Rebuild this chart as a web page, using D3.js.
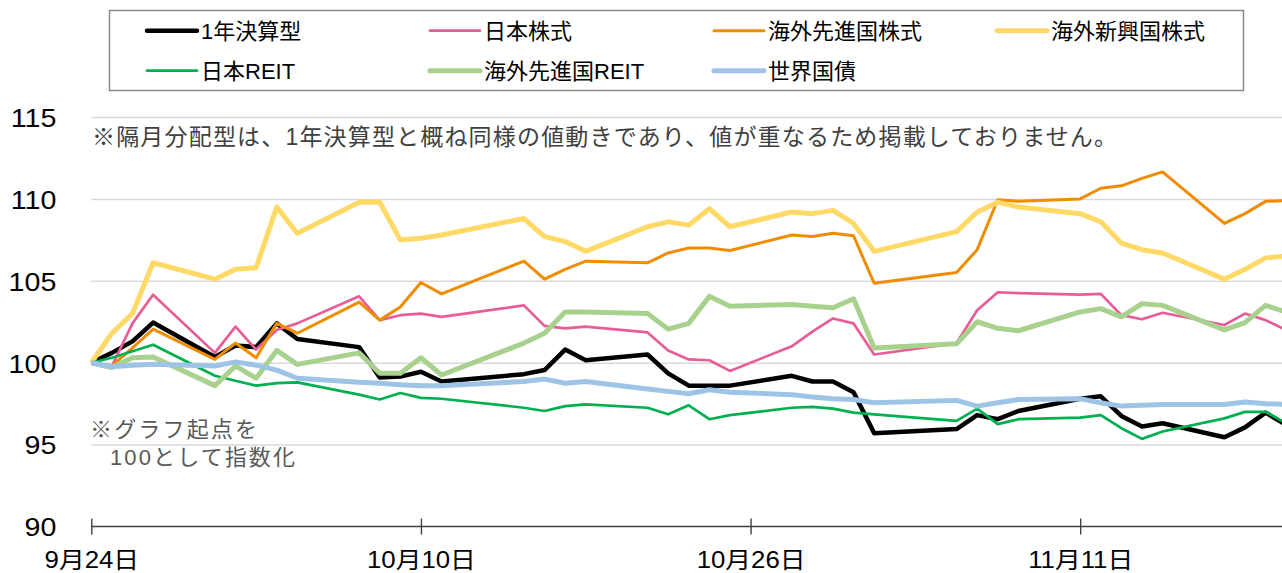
<!DOCTYPE html>
<html>
<head>
<meta charset="utf-8">
<script src="https://cdn.jsdelivr.net/npm/d3@7"></script>
<style>
  html, body { margin: 0; padding: 0; background: #fff; }
  svg { display: block; }
  text { font-family: "Liberation Sans", Arial, "Noto Sans CJK JP", sans-serif; }
</style>
</head>
<body>
<svg id="chart" width="1282" height="573"></svg>
<script>
// ---- data ----
const dates = [
  "2024-09-24","2024-09-25","2024-09-26","2024-09-27","2024-09-30",
  "2024-10-01","2024-10-02","2024-10-03","2024-10-04","2024-10-07",
  "2024-10-08","2024-10-09","2024-10-10","2024-10-11","2024-10-15",
  "2024-10-16","2024-10-17","2024-10-18","2024-10-21","2024-10-22",
  "2024-10-23","2024-10-24","2024-10-25","2024-10-28","2024-10-29",
  "2024-10-30","2024-10-31","2024-11-01","2024-11-05","2024-11-06",
  "2024-11-07","2024-11-08","2024-11-11","2024-11-12","2024-11-13",
  "2024-11-14","2024-11-15","2024-11-18","2024-11-19","2024-11-20",
  "2024-11-21"
];
const seriesNames = ["1年決算型","日本株式","海外先進国株式","海外新興国株式","日本REIT","海外先進国REIT","世界国債"];
const fund1Y = [100,100.6,101.3,102.45,100.35,101.05,100.95,102.4,101.45,100.95,
  99.1,99.15,99.45,98.85,99.3,99.55,100.8,100.15,100.5,99.35,
  98.6,98.6,98.6,99.2,98.85,98.85,98.2,95.7,95.95,96.8,
  96.55,97.05,97.8,97.95,96.75,96.1,96.3,95.45,96.05,96.95,96.2];
const japanEquity = [100,99.8,102.4,104.15,100.6,102.2,100.8,102.0,102.4,104.05,
  102.6,102.9,103.0,102.8,103.5,102.25,102.1,102.2,101.85,100.75,
  100.2,100.15,99.5,101.0,101.9,102.7,102.4,100.5,101.2,103.2,
  104.3,104.25,104.15,104.2,102.9,102.65,103.05,102.3,103.0,102.6,102.0];
const devEquity = [100,99.8,100.9,102.05,100.2,101.2,100.3,102.4,101.8,103.7,
  102.6,103.4,104.9,104.2,106.2,105.1,105.7,106.2,106.1,106.7,
  107.0,107.0,106.85,107.8,107.7,107.9,107.75,104.85,105.5,106.9,
  109.95,109.85,110.0,110.65,110.8,111.25,111.65,108.5,109.1,109.85,109.9];
const emEquity = [100,101.8,103.0,106.1,105.1,105.7,105.8,109.5,107.9,109.8,
  109.8,107.5,107.6,107.8,108.8,107.7,107.4,106.8,108.3,108.6,
  108.4,109.4,108.3,109.2,109.1,109.3,108.5,106.8,108.0,109.2,
  109.8,109.5,109.1,108.6,107.3,106.9,106.7,105.1,105.7,106.4,106.5];
const japanReit = [100,100.3,100.7,101.1,99.2,98.9,98.6,98.75,98.8,98.05,
  97.75,98.15,97.85,97.8,97.25,97.05,97.35,97.45,97.25,96.85,
  97.4,96.55,96.8,97.25,97.3,97.2,96.95,96.85,96.45,97.2,
  96.25,96.55,96.65,96.8,96.0,95.35,95.8,96.6,97.0,97.0,96.3];
const devReit = [100,99.7,100.3,100.35,98.6,99.8,99.05,100.75,99.9,100.6,
  99.35,99.35,100.3,99.25,101.2,101.8,103.1,103.1,103.0,102.05,
  102.4,104.05,103.45,103.55,103.45,103.35,103.9,100.9,101.15,102.5,
  102.1,101.95,103.1,103.3,102.8,103.6,103.5,102.0,102.45,103.5,103.1];
const worldBond = [100,99.75,99.85,99.9,99.8,100.05,99.85,99.55,99.05,98.8,
  98.75,98.65,98.6,98.6,98.85,99.0,98.75,98.85,98.4,98.25,
  98.1,98.35,98.2,98.05,97.9,97.8,97.75,97.55,97.7,97.35,
  97.55,97.75,97.8,97.55,97.35,97.4,97.45,97.45,97.6,97.5,97.45];
const yTicks = [90,95,100,105,110,115];
const xTickDates = ["2024-09-24","2024-10-10","2024-10-26","2024-11-11"];
const xTickLabels = ["9月24日","10月10日","10月26日","11月11日"];
const noteTop = "※隔月分配型は、1年決算型と概ね同様の値動きであり、値が重なるため掲載しておりません。";
const noteBase1 = "※グラフ起点を";
const noteBase2 = "100として指数化";

// ---- styles ----
const seriesValues = [fund1Y, japanEquity, devEquity, emEquity, japanReit, devReit, worldBond];
const colors = ["#000000","#E95D97","#F08C00","#FFD966","#00B050","#A9D18E","#9DC3E6"];
const widths = [4.5, 2.7, 3, 5, 2.7, 5, 5];

const svg = d3.select("#chart");
const W = 1282;
const parse = d3.timeParse("%Y-%m-%d");
const dts = dates.map(parse);

const x = d3.scaleTime().domain([parse("2024-09-24"), parse("2024-11-21")]).range([91.3, 1286.2]);
const y = d3.scaleLinear().domain([90, 115]).range([526.5, 117]);

function stretch(sel, f) {
  sel.each(function() {
    const w = this.getComputedTextLength();
    d3.select(this).attr("textLength", w * f).attr("lengthAdjust", "spacingAndGlyphs");
  });
}

// gridlines + y labels
const yAxis = d3.axisLeft(y).tickValues(yTicks).tickSize(-(W - 91.3)).tickPadding(35).tickFormat(d3.format("d"));
const gy = svg.append("g").attr("transform", "translate(91.3,0)").call(yAxis);
gy.select(".domain").remove();
gy.selectAll(".tick line").attr("stroke", "#D9D9D9").attr("stroke-width", 1.5)
  .attr("display", d => d === 90 ? "none" : null);
gy.selectAll(".tick text").attr("font-size", 26).attr("fill", "#000")
  .attr("font-family", "'Liberation Sans', Arial, sans-serif").attr("dy", "0.36em");
stretch(gy.selectAll(".tick text"), 1.1);

// x axis
const xAxis = d3.axisBottom(x).tickValues(xTickDates.map(parse)).tickSize(8)
  .tickFormat((d, i) => xTickLabels[i]);
const gx = svg.append("g").attr("transform", "translate(0,526.5)").call(xAxis);
gx.select(".domain").attr("d", `M91.3,0H${W}`).attr("stroke", "#404040").attr("stroke-width", 1.4);
gx.selectAll(".tick line").attr("y1", -8).attr("y2", 8).attr("stroke", "#404040").attr("stroke-width", 1.4);
gx.selectAll(".tick text").attr("font-size", 23).attr("fill", "#000").attr("y", 41).attr("dy", null)
  .attr("font-family", "'Liberation Sans', Arial, 'Noto Sans CJK JP', sans-serif");
stretch(gx.selectAll(".tick text"), 1.12);

// clip
svg.append("clipPath").attr("id", "plotclip").append("rect")
  .attr("x", 80).attr("y", 100).attr("width", W - 80).attr("height", 440);

// lines
const line = d3.line().x((d, i) => x(dts[i])).y(d => y(d));
const gl = svg.append("g").attr("clip-path", "url(#plotclip)");
seriesValues.forEach((vals, k) => {
  gl.append("path").datum(vals).attr("d", line).attr("fill", "none")
    .attr("stroke", colors[k]).attr("stroke-width", widths[k])
    .attr("stroke-linejoin", "round").attr("stroke-linecap", "butt");
});

// notes
svg.append("text").attr("x", 92).attr("y", 145).attr("font-size", 23).attr("fill", "#404040")
  .attr("font-family", "'Noto Sans CJK JP', sans-serif")
  .attr("textLength", 1025).attr("lengthAdjust", "spacing").text(noteTop);
svg.append("text").attr("x", 90).attr("y", 437).attr("font-size", 22).attr("fill", "#595959")
  .attr("font-family", "'Noto Sans CJK JP', sans-serif")
  .attr("textLength", 167).attr("lengthAdjust", "spacing").text(noteBase1);
svg.append("text").attr("x", 110).attr("y", 465).attr("font-size", 22).attr("fill", "#595959")
  .attr("font-family", "'Noto Sans CJK JP', sans-serif")
  .attr("textLength", 185).attr("lengthAdjust", "spacing").text(noteBase2);

// legend
const lg = svg.append("g");
lg.append("rect").attr("x", 109.5).attr("y", 10.5).attr("width", 1134).attr("height", 80)
  .attr("fill", "#fff").attr("stroke", "#888").attr("stroke-width", 1.5);
const colX = [147, 430, 714, 997];
const rowY = [30.7, 70.7];
seriesNames.forEach((name, k) => {
  const cx = colX[k % 4], cy = rowY[Math.floor(k / 4)];
  lg.append("line").attr("x1", cx).attr("x2", cx + 50).attr("y1", cy).attr("y2", cy)
    .attr("stroke", colors[k]).attr("stroke-width", widths[k]).attr("stroke-linecap", "round");
  lg.append("text").attr("x", cx + 54).attr("y", cy + 8).attr("font-size", 22).attr("fill", "#000")
    .attr("font-family", "'Liberation Sans', Arial, 'Noto Sans CJK JP', sans-serif").text(name);
});
</script>
</body>
</html>
